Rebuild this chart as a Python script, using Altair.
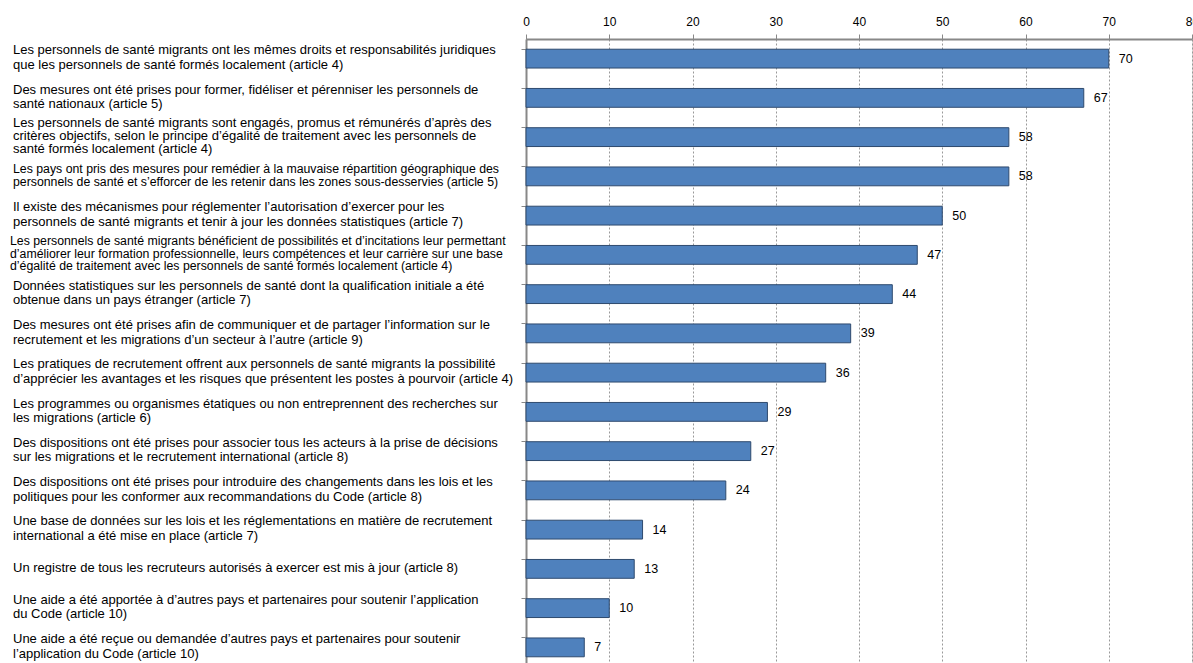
import altair as alt
import pandas as pd

labels = [
    "Les personnels de santé migrants ont les mêmes droits et responsabilités juridiques\nque les personnels de santé formés localement (article 4)",
    "Des mesures ont été prises pour former, fidéliser et pérenniser les personnels de\nsanté nationaux (article 5)",
    "Les personnels de santé migrants sont engagés, promus et rémunérés d’après des\ncritères objectifs, selon le principe d’égalité de traitement avec les personnels de\nsanté formés localement (article 4)",
    "Les pays ont pris des mesures pour remédier à la mauvaise répartition géographique des\npersonnels de santé et s’efforcer de les retenir dans les zones sous-desservies (article 5)",
    "Il existe des mécanismes pour réglementer l’autorisation d’exercer pour les\npersonnels de santé migrants et tenir à jour les données statistiques (article 7)",
    "Les personnels de santé migrants bénéficient de possibilités et d’incitations leur permettant\nd’améliorer leur formation professionnelle, leurs compétences et leur carrière sur une base\nd’égalité de traitement avec les personnels de santé formés localement (article 4)",
    "Données statistiques sur les personnels de santé dont la qualification initiale a été\nobtenue dans un pays étranger (article 7)",
    "Des mesures ont été prises afin de communiquer et de partager l’information sur le\nrecrutement et les migrations d’un secteur  à l’autre (article 9)",
    "Les pratiques de recrutement offrent aux personnels de santé migrants la possibilité\nd’apprécier les avantages et les risques que présentent les postes à pourvoir (article 4)",
    "Les programmes ou organismes étatiques ou non entreprennent des recherches sur\nles migrations (article 6)",
    "Des dispositions ont été prises pour associer tous les acteurs à la prise de décisions\nsur les migrations et le recrutement international (article 8)",
    "Des dispositions ont été prises pour introduire des changements dans les lois et les\npolitiques pour les conformer aux recommandations du Code (article 8)",
    "Une base de données sur les lois et les réglementations en matière de recrutement\ninternational a été mise en place (article 7)",
    "Un registre de tous les recruteurs autorisés à exercer est mis à jour (article 8)",
    "Une aide a été apportée à d’autres pays et partenaires pour soutenir l’application\ndu Code (article 10)",
    "Une aide a été reçue ou demandée d’autres pays et partenaires pour soutenir\nl’application du Code (article 10)",
]
values = [70, 67, 58, 58, 50, 47, 44, 39, 36, 29, 27, 24, 14, 13, 10, 7]
x_ticks = [0, 10, 20, 30, 40, 50, 60, 70, 80]

df = pd.DataFrame({"idx": list(range(len(labels))), "label": labels, "value": values})

x_scale = alt.Scale(domain=[0, 80], nice=False, zero=True)
y_enc = alt.Y("idx:O", scale=alt.Scale(paddingInner=0.52, paddingOuter=0.26),
              axis=alt.Axis(labels=False, title=None, ticks=True, tickSize=5,
                            bandPosition=0, domainColor="#888888", domainWidth=2,
                            tickColor="#888888", grid=False))

base = alt.Chart(df).transform_calculate(
    nlines="length(split(datum.label, '\\n'))"
)

bars = base.mark_bar(color="#4F81BD", stroke="#2E4A6E", strokeWidth=1).encode(
    x=alt.X("value:Q", scale=x_scale,
            axis=alt.Axis(orient="top", values=x_ticks, title=None, grid=True,
                          gridDash=[2, 2], gridColor="#999999", gridWidth=1,
                          domainColor="#888888", domainWidth=2, tickColor="#888888",
                          tickSize=5, labelFontSize=12, labelColor="#000000",
                          labelFont="Liberation Sans", labelPadding=6, labelFlush=False)),
    y=y_enc,
)

value_text = base.mark_text(align="left", baseline="middle", dx=10,
                            fontSize=12.5, font="Liberation Sans", color="#000000").encode(
    x=alt.X("value:Q", scale=x_scale),
    y=alt.Y("idx:O"),
    text="value:Q",
)


def label_layer(filter_expr, size, lh, nlines, xpos=-513, shift=-1):
    return base.transform_filter(filter_expr).mark_text(
        align="left", baseline="middle", lineBreak="\n", fontSize=size,
        lineHeight=lh, dy=-(nlines - 1) * lh / 2 + shift,
        font="Liberation Sans", color="#000000").encode(
        x=alt.value(xpos),
        y=alt.Y("idx:O"),
        text="label:N",
    )


special = "datum.idx == 2 || datum.idx == 3 || datum.idx == 5"
cat_one = label_layer("datum.nlines == 1", 13, 14.5, 1)
cat_two = label_layer("datum.nlines == 2 && !(" + special + ")", 13, 14.5, 2)
cat_three = label_layer("datum.idx == 2", 13, 13, 3)
cat_cond2 = label_layer("datum.idx == 3", 12.3, 13.5, 2)
cat_cond3 = label_layer("datum.idx == 5", 12.3, 12.5, 3, -516)

chart = alt.layer(bars, value_text, cat_one, cat_two, cat_three, cat_cond2, cat_cond3).properties(
    width=666, height=628,
    autosize=alt.AutoSizeParams(type="none"),
    padding={"left": 526, "top": 39, "right": 1, "bottom": 0},
).configure_view(stroke=None).configure(background="white")

chart.save("out.html", embed_options={"renderer": "svg", "actions": False})
